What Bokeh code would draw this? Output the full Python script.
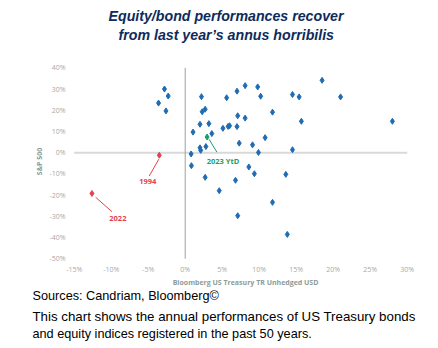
from bokeh.plotting import figure
from bokeh.models import Range1d, FixedTicker, PrintfTickFormatter, Title
from bokeh.core.properties import value
from bokeh.embed import file_html
from bokeh.resources import INLINE

# annual performances (%): x = US Treasury TR, y = S&P 500
bond = [-2.8, -2.3, -3.6, -2.6, 2.2, 5.6, 7.0, 8.1, 9.8, 10.2,
        2.3, 2.7, 2.0, 3.2, 7.1, 8.1, 1.06, 3.6, 5.1, 5.8,
        6.0, 7.0, 10.8, 7.3, 9.1, 9.9, 2.0, 2.1, 2.8, 0.8,
        14.5, 14.5, 15.4, 18.5, 21.0, 15.7, 28.0, 11.8, 0.84, 2.7,
        4.6, 6.8, 8.6, 9.35, 13.6, 11.8, 7.1, 13.8]
equity = [30.0, 26.7, 23.4, 19.7, 26.4, 25.9, 29.0, 31.6, 31.0, 26.6,
          19.3, 20.5, 13.4, 13.7, 17.4, 16.3, 9.7, 9.0, 11.5, 12.4,
          12.7, 12.3, 7.1, 4.5, 3.7, 0.1, 2.3, 1.1, 2.9, -0.6,
          1.4, 27.4, 26.3, 34.1, 26.3, 14.8, 14.8, 19.1, -6.1, -11.6,
          -17.9, -13.0, -6.7, -9.9, -10.2, -23.4, -29.7, -38.5]

red_years = ["1994", "2022"]
red_bond = [-3.5, -12.6]
red_equity = [-1.2, -19.2]
red_label_x = [-5.05, -9.1]
red_label_y = [-13.8, -31.1]
red_line_x0 = [-3.56, -12.1]
red_line_y0 = [-3.0, -21.0]
red_line_x1 = [-4.86, -9.9]
red_line_y1 = [-11.0, -27.8]

ytd_label = ["2023 YtD"]
ytd_bond = [2.96]
ytd_equity = [7.4]
ytd_label_x = [5.1]
ytd_label_y = [-3.8]
ytd_line_x0 = [3.23]
ytd_line_y0 = [6.3]
ytd_line_x1 = [4.28]
ytd_line_y1 = [0.3]

x_ticks = [-15, -10, -5, 0, 5, 10, 15, 20, 25, 30]
y_ticks = [-50, -40, -30, -20, -10, 0, 10, 20, 30, 40]

BLUE = "#1f6cb2"
RED = "#e2434f"
GREEN = "#17a06c"
AX_FONT = "Open Sans"

p = figure(frame_width=350, frame_height=202, output_backend="svg", toolbar_location=None,
           x_range=Range1d(-15.5, 31.8), y_range=Range1d(-51.74, 43.45),
           min_border_left=70, min_border_right=18, min_border_top=60,
           min_border_bottom=86, title=None)
p.outline_line_color = None
p.grid.visible = False
p.background_fill_color = "white"
p.border_fill_color = "white"

for ax, ticks in ((p.xaxis, x_ticks), (p.yaxis, y_ticks)):
    ax.ticker = FixedTicker(ticks=ticks)
    ax.formatter = PrintfTickFormatter(format="%d%%")
    ax.axis_line_color = None
    ax.major_tick_line_color = None
    ax.minor_tick_line_color = None
    ax.major_tick_out = 0
    ax.major_tick_in = 0
    ax.minor_tick_out = 0
    ax.minor_tick_in = 0
    ax.major_label_text_font = AX_FONT
    ax.major_label_text_font_size = "7px"
    ax.major_label_text_color = "#a8a8a8"
    ax.axis_label_text_font = AX_FONT
    ax.axis_label_text_font_size = "7px"
    ax.axis_label_text_font_style = "bold"
    ax.axis_label_text_color = "#8c9c9a"

p.xaxis.axis_label = "Bloomberg US Treasury TR Unhedged USD"
p.yaxis.axis_label = "S&P 500"
p.xaxis.major_label_standoff = 2
p.xaxis.axis_label_standoff = 1
p.yaxis.major_label_standoff = 5
p.yaxis.axis_label_standoff = 2

# reference lines
p.line(x=[x_ticks[0], x_ticks[-1]], y=[0, 0], line_color="#d9d9d9", line_width=2)
p.line(x=[0, 0], y=[y_ticks[0], y_ticks[-1]], line_color="#a0a0a0", line_width=1)

# points
p.scatter(bond, equity, marker="diamond", size=6, color=BLUE)

p.segment(x0=red_line_x0, y0=red_line_y0, x1=red_line_x1, y1=red_line_y1,
          line_color=RED, line_width=1)
p.scatter(red_bond, red_equity, marker="diamond", size=6, color=RED)
p.text(x=red_label_x, y=red_label_y, text=red_years, text_color=RED,
       text_font=value(AX_FONT), text_font_size="7.5px", text_font_style="bold",
       text_align="center", text_baseline="middle")

p.segment(x0=ytd_line_x0, y0=ytd_line_y0, x1=ytd_line_x1, y1=ytd_line_y1,
          line_color=GREEN, line_width=1)
p.scatter(ytd_bond, ytd_equity, marker="diamond", size=6, color=GREEN)
p.text(x=ytd_label_x, y=ytd_label_y, text=ytd_label, text_color=GREEN,
       text_font=value(AX_FONT), text_font_size="7.5px", text_font_style="bold",
       text_align="center", text_baseline="middle")

# titles (first added = closest to frame)
TFONT = "Liberation Sans"
p.add_layout(Title(text=" ", text_font_size="1px", standoff=13.8), "above")
p.add_layout(Title(text="from last year\u2019s annus horribilis", align="left", offset=48,
                   text_font=TFONT, text_font_size="14.2px", text_font_style="bold italic",
                   text_color="#0e2b5c", standoff=1.2), "above")
p.add_layout(Title(text="Equity/bond performances recover", align="left", offset=38,
                   text_font=TFONT, text_font_size="14.2px", text_font_style="bold italic",
                   text_color="#0e2b5c", standoff=1.2), "above")

notes = ["Sources: Candriam, Bloomberg\u00a9",
         "This chart shows the annual performances of US Treasury bonds",
         "and equity indices registered in the past 50 years."]
note_sizes = ["12.7px", "13.3px", "12.7px"]
note_standoffs = [-6, 14, -12]
for t, fs, so in zip(notes, note_sizes, note_standoffs):
    p.add_layout(Title(text=t, align="left", offset=-38, text_font=TFONT,
                       text_font_size=fs, text_font_style="normal",
                       text_color="#000000", standoff=so), "below")

open("out.html", "w").write(file_html(p, INLINE))
